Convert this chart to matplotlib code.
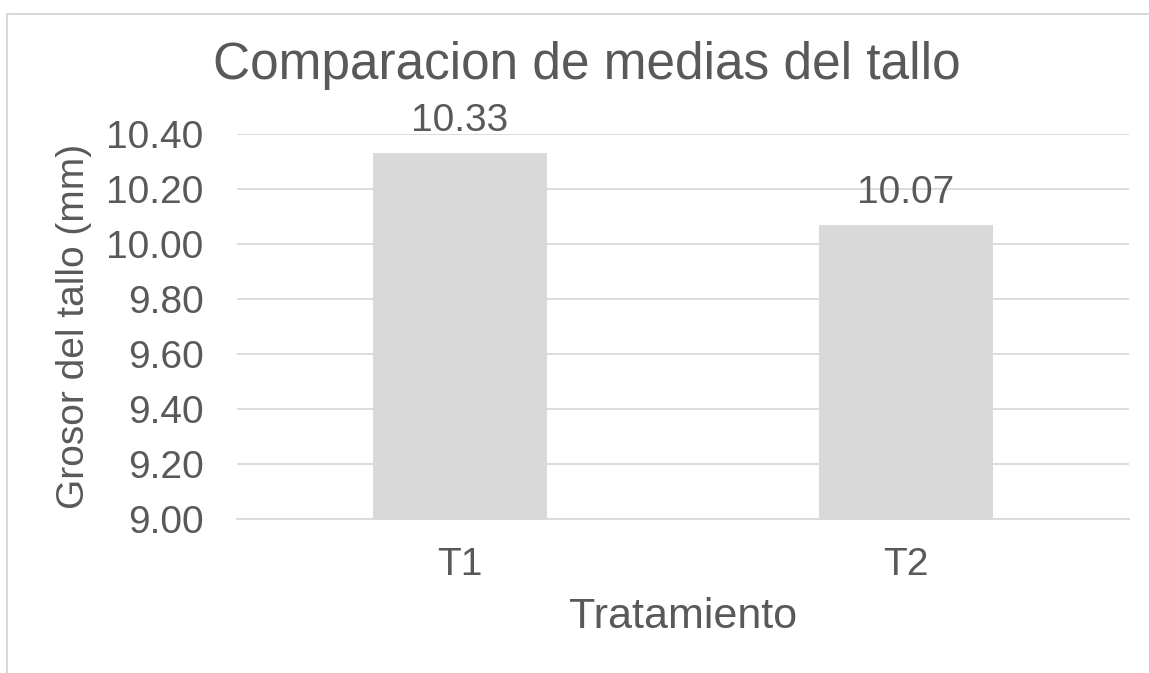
import matplotlib.pyplot as plt
from matplotlib.patches import Rectangle

tratamientos = ['T1', 'T2']
medias = [10.33, 10.07]
yticks = [9.00, 9.20, 9.40, 9.60, 9.80, 10.00, 10.20, 10.40]

plt.rcParams['font.family'] = ['Liberation Sans', 'DejaVu Sans']
text_color = '#595959'
grid_color = '#d9d9d9'

fig = plt.figure(figsize=(11.49, 6.73), dpi=100)
ax = fig.add_axes([0.2063, 0.2288, 0.7763, 0.5721])

# marco del grafico (solo visible arriba e izquierda)
fig.patches.append(Rectangle((7 / 1149, -0.1), 1.2, 1 - 14 / 673 + 0.1,
                             transform=fig.transFigure, fill=False,
                             edgecolor='#d9d9d9', linewidth=1.5))

x = range(len(tratamientos))
bars = ax.bar(x, medias, width=0.39, color='#d9d9d9', zorder=2)

for b, v in zip(bars, medias):
    ax.annotate(f'{v:.2f}', (b.get_x() + b.get_width() / 2, v),
                xytext=(0, 10), textcoords='offset points',
                ha='center', va='bottom', fontsize=28, color=text_color)

ax.set_xlim(-0.5, 1.5)
ax.set_ylim(9.0, 10.4)
ax.set_yticks(yticks)
ax.set_yticklabels([f'{t:.2f}' for t in yticks])
ax.set_xticks(list(x))
ax.set_xticklabels(tratamientos)
ax.tick_params(axis='both', length=0, labelsize=28, labelcolor=text_color)
ax.tick_params(axis='x', pad=20)
ax.tick_params(axis='y', pad=24)

ax.grid(axis='y', color=grid_color, linewidth=1.3, zorder=0)
for s in ['top', 'right', 'left']:
    ax.spines[s].set_visible(False)
ax.spines['bottom'].set_color(grid_color)
ax.spines['bottom'].set_linewidth(1.3)

ax.set_xlabel('Tratamiento', fontsize=31, color=text_color, labelpad=10)
ax.set_ylabel('Grosor del tallo (mm)', fontsize=28, color=text_color, labelpad=10)
fig.text(0.511, 0.903, 'Comparacion de medias del tallo', ha='center', va='center',
         fontsize=37, color=text_color)

fig.savefig('out.png', dpi=100, facecolor='white')
